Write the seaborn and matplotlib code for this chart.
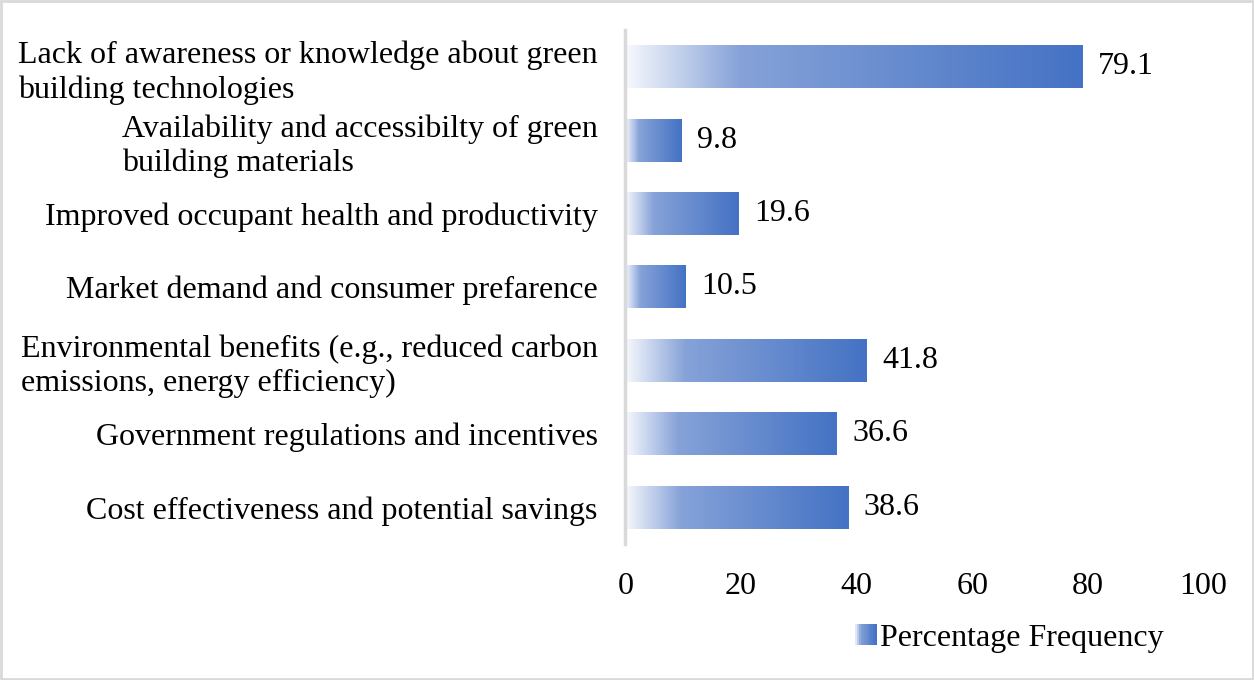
import matplotlib
matplotlib.use("Agg")
import matplotlib.pyplot as plt
import matplotlib.patches as mpatches
from matplotlib.colors import LinearSegmentedColormap
from matplotlib.legend_handler import HandlerBase
import numpy as np
import pandas as pd
import seaborn as sns

categories = [
    "Lack of awareness or knowledge about green\nbuilding technologies",
    "Availability and accessibilty of green\nbuilding materials",
    "Improved occupant health and productivity",
    "Market demand and consumer prefarence",
    "Environmental benefits (e.g., reduced carbon\nemissions, energy efficiency)",
    "Government regulations and incentives",
    "Cost effectiveness and potential savings",
]
values = [79.1, 9.8, 19.6, 10.5, 41.8, 36.6, 38.6]
x_ticks = [0, 20, 40, 60, 80, 100]
series_name = "Percentage Frequency"

sns.set_theme(style="white")
plt.rcParams["font.family"] = ["Liberation Serif", "DejaVu Serif"]
plt.rcParams["text.color"] = "black"

FS = 23
grad = LinearSegmentedColormap.from_list(
    "bar_grad",
    [(0.0, "#F7F9FD"), (0.25, "#86A2D8"), (1.0, "#4472C4")],
)

df = pd.DataFrame({"category": categories, "value": values})

fig = plt.figure(figsize=(12.54, 6.8), dpi=100)
ax = fig.add_axes([0.4988, 0.2, 0.9597 - 0.4988, 0.956 - 0.2])

sns.barplot(data=df, x="value", y="category", orient="h", width=0.585,
            color="#4472C4", ax=ax)

# Replace the flat fill of each bar with a left-to-right gradient
ramp = np.linspace(0, 1, 256).reshape(1, -1)
for bar in list(ax.patches):
    x0, y0 = bar.get_x(), bar.get_y()
    w, h = bar.get_width(), bar.get_height()
    bar.set_facecolor("none")
    bar.set_edgecolor("none")
    ax.imshow(ramp, cmap=grad, aspect="auto", interpolation="bilinear",
              extent=[x0, x0 + w, y0 + h, y0], zorder=2)

for i, v in enumerate(values):
    ax.text(v + 2.6, i, f"{v}", va="center", ha="left", fontsize=FS, color="black")

ax.set_xlim(0, 100)
ax.set_ylim(6.5, -0.5)
ax.set_xticks(x_ticks)
ax.set_xticklabels([str(t) for t in x_ticks], fontsize=FS, color="black")
ax.set_xlabel("")
ax.set_ylabel("")
ax.tick_params(axis="both", length=0)
ax.tick_params(axis="x", pad=20)
ax.tick_params(axis="y", pad=20)
for lbl in ax.get_yticklabels():
    lbl.set_fontsize(FS)
    lbl.set_color("black")
    lbl.set_multialignment("left")
    lbl.set_linespacing(1.22)

for side in ["top", "right", "bottom"]:
    ax.spines[side].set_visible(False)
ax.spines["left"].set_color("#D9D9D9")
ax.spines["left"].set_linewidth(2.5)
ax.grid(False)


class GradientHandler(HandlerBase):
    def create_artists(self, legend, orig_handle, xdescent, ydescent,
                       width, height, fontsize, trans):
        n = 12
        side = height * 0.95
        x_start = xdescent + width - side
        artists = []
        for k in range(n):
            r = mpatches.Rectangle(
                (x_start + side * k / n, -ydescent - (side - height) / 2),
                side / n + 0.3, side,
                facecolor=grad(0.05 + 0.95 * k / (n - 1)), edgecolor="none",
                transform=trans)
            artists.append(r)
        return artists


handle = mpatches.Patch(label=series_name)
fig.legend(handles=[handle], labels=[series_name],
           handler_map={mpatches.Patch: GradientHandler()},
           loc="center", bbox_to_anchor=(0.806, 0.062), frameon=False,
           fontsize=FS, handlelength=0.6, handletextpad=0.12,
           labelcolor="black")

# Thin light-grey frame around the whole figure
fig.patches.append(mpatches.Rectangle((0.001, 0.001), 0.998, 0.997,
                                      transform=fig.transFigure, fill=False,
                                      edgecolor="#D9D9D9", linewidth=2))

fig.savefig("out.png", dpi=100, facecolor="white")
